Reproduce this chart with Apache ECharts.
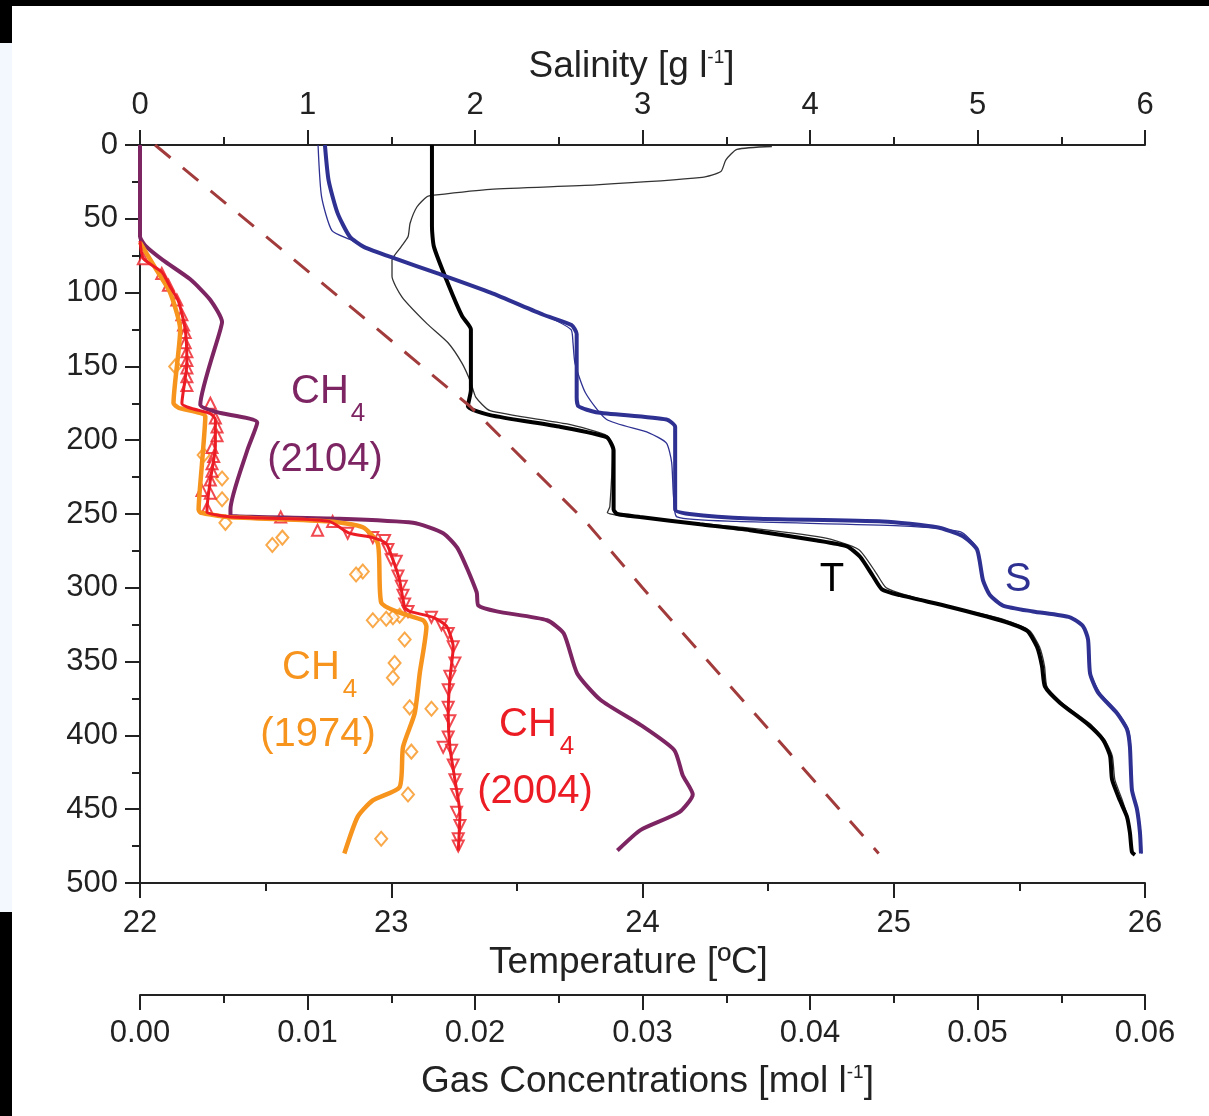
<!DOCTYPE html>
<html>
<head>
<meta charset="utf-8">
<title>Depth profiles</title>
<script src="https://cdn.jsdelivr.net/npm/echarts@6.0.0/dist/echarts.min.js"></script>
<style>
  html, body { margin: 0; padding: 0; background: #fff; }
  #chart { width: 1209px; height: 1116px; }
</style>
</head>
<body>
<div id="chart"></div>
<script>
// values are [x, depth in m]
const tempThick = [[23.162,0],[23.162,55],[23.170,69],[23.226,94],[23.282,116],[23.317,125],[23.317,166],[23.305,177],[23.393,183],[23.675,191],[23.857,198],[23.885,207],[23.885,247],[23.90,250],[23.99,252],[24.229,257],[24.428,261],[24.695,268],[24.814,272],[24.866,279],[24.917,292],[24.953,301],[25.025,305],[25.224,313],[25.423,322],[25.530,329],[25.570,340],[25.590,353],[25.602,367],[25.662,378],[25.769,392],[25.833,403],[25.861,414],[25.869,430],[25.900,444],[25.928,455],[25.940,466],[25.948,479],[25.96,481]];
const tempThin = [[24.515,1],[24.376,3],[24.332,10],[24.312,18],[24.237,22],[23.815,27],[23.393,30],[23.170,34],[23.142,35],[23.102,42],[23.075,53],[23.067,62],[23.039,69],[23.003,78],[23.003,89],[23.043,103],[23.142,121],[23.226,134],[23.282,148],[23.317,161],[23.337,171],[23.393,180],[23.70,189],[23.86,197],[23.88,205],[23.87,245],[23.86,249],[23.95,252],[24.40,259],[24.72,266],[24.86,274],[24.93,290],[24.97,300],[25.05,305],[25.23,313],[25.43,321],[25.54,329],[25.58,340],[25.60,353],[25.61,367],[25.67,378],[25.78,392],[25.84,403],[25.87,414],[25.88,430],[25.91,444],[25.93,455],[25.94,466],[25.95,479]];

const salThick = [[1.104,0],[1.126,24],[1.179,46],[1.252,62],[1.336,69],[1.525,77],[1.777,87],[2.093,100],[2.408,115],[2.576,122],[2.607,128],[2.607,171],[2.618,177],[2.722,181],[3.143,186],[3.195,191],[3.195,247],[3.28,250],[3.64,253],[4.436,255],[4.758,259],[4.913,265],[4.997,274],[5.033,295],[5.075,305],[5.152,312],[5.331,316],[5.552,320],[5.63,326],[5.66,335],[5.672,358],[5.72,371],[5.833,385],[5.893,396],[5.91,408],[5.922,437],[5.952,450],[5.97,466],[5.976,480]];
const salThin = [[1.063,0],[1.084,35],[1.146,58],[1.254,64],[1.40,72],[1.77,87],[2.09,100],[2.41,115],[2.573,125],[2.585,134],[2.597,148],[2.660,168],[2.786,186],[3.038,195],[3.143,202],[3.174,215],[3.185,238],[3.206,252],[3.563,255],[4.537,258],[4.896,262],[4.99,272],[5.03,295],[5.08,305],[5.16,312],[5.34,316],[5.55,320],[5.63,326],[5.66,335],[5.675,358],[5.73,371],[5.84,385],[5.90,396],[5.915,408],[5.925,437],[5.955,450],[5.975,466],[5.98,480]];

const ch4Future2104 = [[0,0],[0,62],[0.0003,68],[0.00137,78],[0.0030,91],[0.0042,105],[0.0049,120],[0.0048,125],[0.0036,176],[0.0046,181],[0.0070,188],[0.0064,207],[0.0054,247],[0.0054,251],[0.0113,253],[0.0163,256],[0.0181,263],[0.0190,274],[0.0201,303],[0.0202,312],[0.0213,316],[0.0243,322],[0.0253,331],[0.0261,358],[0.0275,376],[0.0299,393],[0.0319,410],[0.0324,427],[0.0330,440],[0.0322,452],[0.0299,464],[0.0285,478]];
const ch4Model1974 = [[0,66],[0.0010,85],[0.0018,100],[0.0024,125],[0.0020,175],[0.0023,178],[0.0039,184],[0.0037,216],[0.0035,247],[0.0036,249],[0.0052,252],[0.0113,255],[0.0133,259],[0.0142,270],[0.0144,310],[0.0153,316],[0.0169,322],[0.0171,326],[0.0167,358],[0.0164,385],[0.0157,408],[0.0155,435],[0.0139,444],[0.0130,455],[0.0122,480]];
const ch4Model2004 = [[0,65],[0.0002,77],[0.0013,86],[0.0018,96],[0.0023,106],[0.0027,125],[0.0028,148],[0.0025,175],[0.0042,182],[0.0045,186],[0.0045,204],[0.0042,227],[0.0040,247],[0.0040,249],[0.0054,252],[0.0084,253],[0.0113,255],[0.0125,263],[0.0139,266],[0.0147,270],[0.0151,281],[0.0155,295],[0.0158,313],[0.0161,316],[0.0175,320],[0.0183,326],[0.0187,340],[0.0185,362],[0.0184,385],[0.0185,408],[0.0188,430],[0.0191,453],[0.0190,478]];
const ch4Obs1974 = [[0.0021,150],[0.0038,210],[0.0049,226],[0.0049,240],[0.0051,256],[0.0085,266],[0.0079,271],[0.0133,289],[0.0129,291],[0.0155,319],[0.0151,320],[0.0147,321],[0.0139,322],[0.0158,335],[0.0152,351],[0.0151,361],[0.0161,381],[0.0174,382],[0.0162,411],[0.0160,440],[0.0144,470]];
const ch4Obs2004Upper = [[0.0002,77],[0.0013,87],[0.0017,95],[0.0022,105],[0.0025,115],[0.0026,122],[0.0027,127],[0.0027,134],[0.0028,140],[0.0028,146],[0.0028,151],[0.0028,157],[0.0028,163],[0.0042,175],[0.0045,185],[0.0046,191],[0.0046,197],[0.0043,205],[0.0044,211],[0.0043,216],[0.0043,221],[0.0042,227],[0.0037,234],[0.0042,236],[0.0040,246],[0.0084,252],[0.0115,255],[0.0106,261]];
const ch4Obs2004Lower = [[0.0124,263],[0.0139,266],[0.0146,268],[0.0148,274],[0.0150,281],[0.0153,282],[0.0154,292],[0.0156,299],[0.0157,305],[0.0158,311],[0.0160,316],[0.0174,320],[0.0180,325],[0.0184,331],[0.0187,340],[0.0188,351],[0.0185,360],[0.0184,369],[0.0184,381],[0.0185,390],[0.0184,401],[0.0181,408],[0.0186,410],[0.0187,420],[0.0188,430],[0.0189,440],[0.0189,452],[0.0191,461],[0.0190,470],[0.0190,475]];
const dashedRef = [[0.0009,0],[0.0087,73],[0.0197,177],[0.0266,255],[0.0300,300],[0.0366,384],[0.0441,480]];

const FONT = '"Liberation Sans", Arial, sans-serif';
const INK = '#222';
const PURPLE = '#7d2563', ORANGE = '#f7941d', RED = '#ec1c24', BLUE = '#2e3192';
const TICK_FONT = 31;

let myChart = echarts.init(document.getElementById('chart'));

function xAxisCfg(pos, min, max, interval, margin, extra) {
    return Object.assign({
        type: 'value', position: pos, min: min, max: max, interval: interval,
        axisLine: { show: true, onZero: false, lineStyle: { color: INK, width: 2 } },
        axisTick: { show: true, length: 15, lineStyle: { color: INK, width: 2 } },
        minorTick: { show: true, splitNumber: 2, length: 8, lineStyle: { color: INK, width: 2 } },
        splitLine: { show: false },
        axisLabel: { color: INK, fontSize: TICK_FONT, fontFamily: FONT, margin: margin },
        nameLocation: 'middle'
    }, extra);
}

// axis title with optional superscript; pad shifts the title sideways
function richName(before, sup, after, pad) {
    return {
        name: '{t|' + before + '}' + (sup ? '{s|' + sup + '}{t|' + after + '}' : ''),
        nameTextStyle: {
            padding: pad || 0,
            rich: {
                t: { fontSize: 37, fontFamily: FONT, color: INK },
                s: { fontSize: 19, fontFamily: FONT, color: INK, verticalAlign: 'top' }
            }
        }
    };
}

function lineSeries(name, xi, data, color, width, extra) {
    return Object.assign({
        name: name, type: 'line', xAxisIndex: xi, yAxisIndex: 0, data: data,
        showSymbol: false, symbol: 'none', smooth: 0.2,
        lineStyle: { color: color, width: width }, silent: true
    }, extra);
}

function labelText(x, y, text, color, size) {
    return {
        type: 'text', x: x, y: y,
        style: { text: text, fill: color, font: size + 'px ' + FONT, align: 'center', verticalAlign: 'middle' }
    };
}

const option = {
    animation: false,
    backgroundColor: '#fff',
    grid: { left: 140, top: 145, width: 1005, height: 738, containLabel: false, outerBoundsMode: 'none' },
    xAxis: [
        xAxisCfg('bottom', 22, 26, 1, 25, Object.assign({ nameGap: 50 }, richName('Temperature [ºC]', null, null, [0, 28, 0, 0]))),
        xAxisCfg('top', 0, 6, 1, 24, Object.assign({ nameGap: 57 }, richName('Salinity [g l', '-1', ']', [0, 22, 0, 0]))),
        xAxisCfg('bottom', 0, 0.06, 0.01, 23, Object.assign({
            offset: 112, nameGap: 68,
            axisLabel: { color: INK, fontSize: TICK_FONT, fontFamily: FONT, margin: 23, formatter: v => v.toFixed(2) }
        }, richName('Gas Concentrations [mol l', '-1', ']', [0, 0, 0, 10])))
    ],
    yAxis: [
        {
            type: 'value', inverse: true, min: 0, max: 500, interval: 50, position: 'left',
            axisLine: { show: true, lineStyle: { color: INK, width: 2 } },
            axisTick: { show: true, length: 15, lineStyle: { color: INK, width: 2 } },
            minorTick: { show: true, splitNumber: 2, length: 8, lineStyle: { color: INK, width: 2 } },
            splitLine: { show: false },
            axisLabel: { color: INK, fontSize: TICK_FONT, fontFamily: FONT, margin: 22 }
        },
        {
            type: 'value', inverse: true, min: 0, max: 500, interval: 100, position: 'right',
            axisLine: { show: true, lineStyle: { color: INK, width: 2 } },
            axisTick: { show: true, inside: true, length: 15, lineStyle: { color: INK, width: 2 } },
            minorTick: { show: true, splitNumber: 2, length: 8, lineStyle: { color: INK, width: 2 } },
            splitLine: { show: false },
            axisLabel: { show: false }
        }
    ],
    series: [
        lineSeries('T other', 0, tempThin, '#333', 1.3),
        lineSeries('T', 0, tempThick, '#000', 4),
        lineSeries('S other', 1, salThin, BLUE, 1.3),
        lineSeries('S', 1, salThick, BLUE, 4),
        lineSeries('reference', 2, dashedRef, '#a23b3b', 3, { smooth: false, lineStyle: { color: '#a23b3b', width: 3, type: [20, 16] } }),
        lineSeries('CH4 2104', 2, ch4Future2104, PURPLE, 4),
        lineSeries('CH4 1974', 2, ch4Model1974, ORANGE, 4.5),
        {
            name: 'CH4 1974 obs', type: 'scatter', xAxisIndex: 2, data: ch4Obs1974,
            symbol: 'diamond', symbolSize: [12, 14],
            itemStyle: { color: '#fff', borderColor: ORANGE, borderWidth: 2 }
        },
        lineSeries('CH4 2004', 2, ch4Model2004, RED, 3),
        {
            name: 'CH4 2004 obs', type: 'scatter', xAxisIndex: 2, data: ch4Obs2004Upper,
            symbol: 'triangle', symbolSize: 11,
            itemStyle: { color: '#fff', borderColor: RED, borderWidth: 2 }
        },
        {
            name: 'CH4 2004 obs deep', type: 'scatter', xAxisIndex: 2, data: ch4Obs2004Lower,
            symbol: 'triangle', symbolRotate: 180, symbolSize: 11,
            itemStyle: { color: '#fff', borderColor: RED, borderWidth: 2 }
        }
    ],
    graphic: [
        { type: 'rect', shape: { x: 0, y: 0, width: 1209, height: 6 }, style: { fill: '#000' } },
        { type: 'rect', shape: { x: 0, y: 0, width: 12, height: 43 }, style: { fill: '#000' } },
        { type: 'rect', shape: { x: 0, y: 43, width: 12, height: 869 }, style: { fill: '#f3f7fe' } },
        { type: 'rect', shape: { x: 0, y: 912, width: 12, height: 204 }, style: { fill: '#000' } },
        labelText(320, 392, 'CH', PURPLE, 40), labelText(358, 414, '4', PURPLE, 26), labelText(325, 460, '(2104)', PURPLE, 40),
        labelText(311, 668, 'CH', ORANGE, 40), labelText(350, 690, '4', ORANGE, 26), labelText(318, 735, '(1974)', ORANGE, 40),
        labelText(528, 725, 'CH', RED, 40), labelText(567, 747, '4', RED, 26), labelText(535, 792, '(2004)', RED, 40),
        labelText(832, 580, 'T', '#000', 40), labelText(1018, 580, 'S', BLUE, 40)
    ]
};

myChart.setOption(option);

window.addEventListener('resize', () => {
    if (myChart) myChart.resize();
});
</script>
</body>
</html>
